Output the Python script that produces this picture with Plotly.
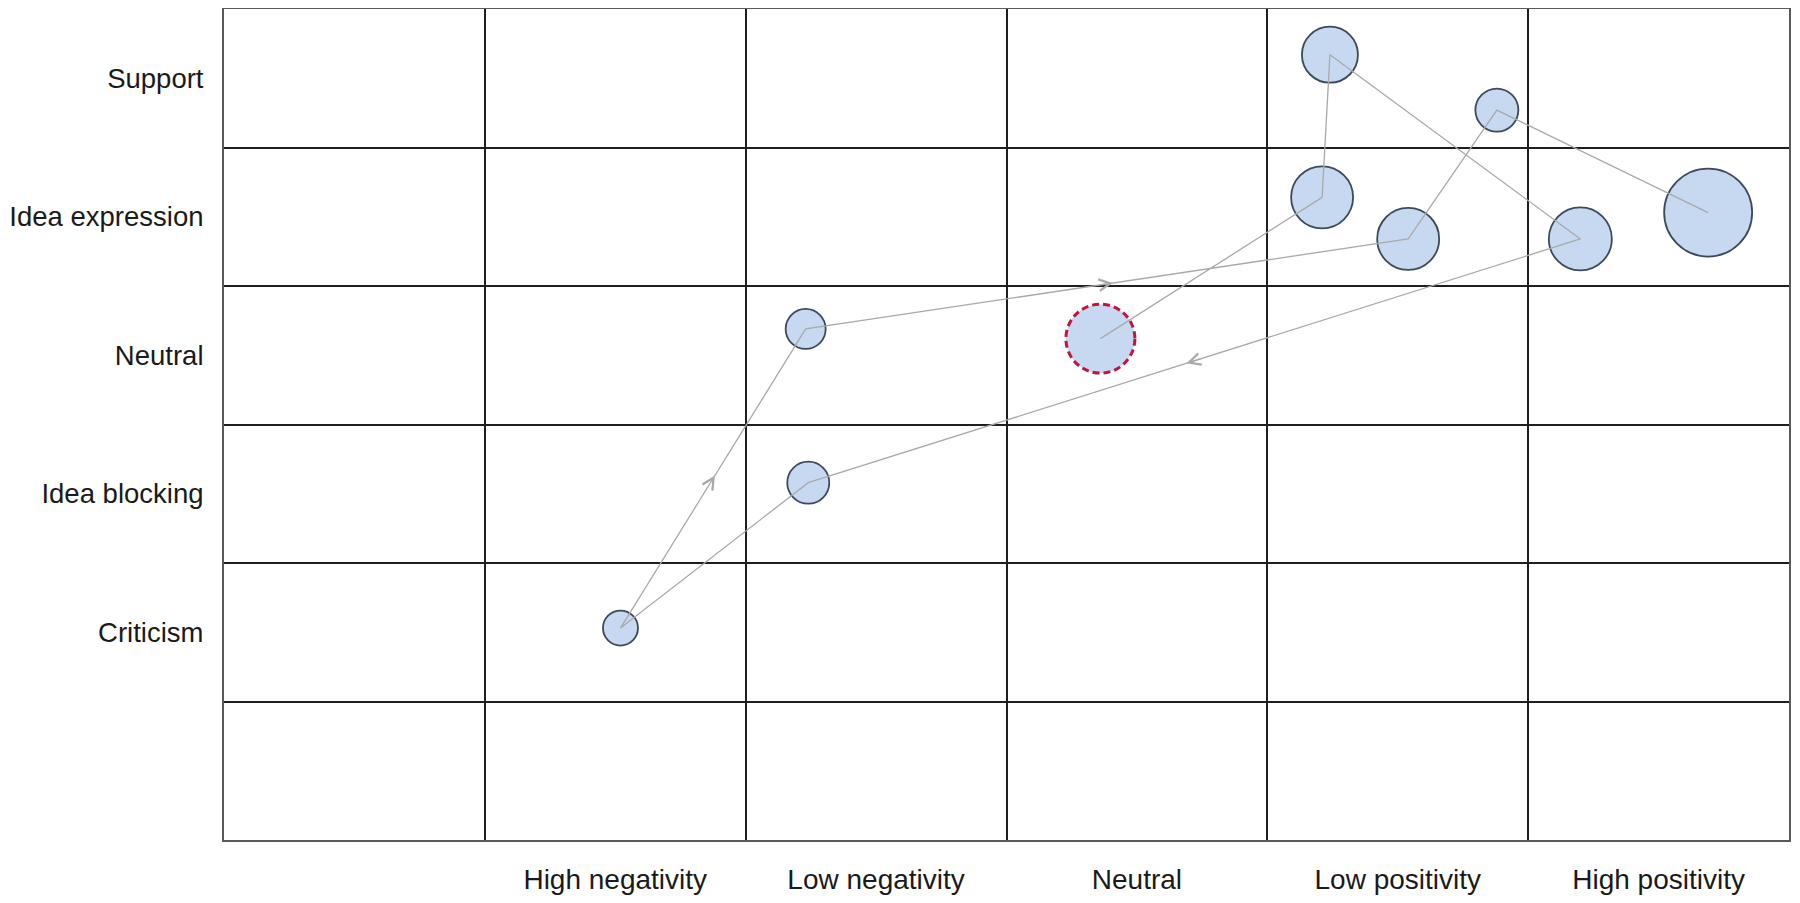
import plotly.graph_objects as go

# grid categories (first column / last row are left blank in the original)
COLUMNS = ["", "High negativity", "Low negativity", "Neutral", "Low positivity", "High positivity"]
ROWS = ["", "Criticism", "Idea blocking", "Neutral", "Idea expression", "Support"]

# conversation steps in order; cell centres sit at .5 on both axes
STEP_X = [3.36, 4.21, 4.24, 5.20, 2.24, 1.52, 2.23, 4.54, 4.88, 5.69]
STEP_Y = [3.62, 4.64, 5.67, 4.34, 2.58, 1.53, 3.69, 4.34, 5.27, 4.53]
STEP_SIZE = [69, 62, 56, 63, 42, 35, 40, 62, 43, 88]

FILL = "#c6d9f1"
EDGE = "#3d4a5c"
PATH_GRAY = "#a9a9a9"
START_RED = "#c4143c"
GRID = "#1e1e1e"
FONT = "Liberation Sans, Arial, sans-serif"

fig = go.Figure()

edge_widths = [0] + [1.8] * (len(STEP_X) - 1)
fig.add_trace(
    go.Scatter(
        x=STEP_X,
        y=STEP_Y,
        mode="markers",
        marker={
            "size": STEP_SIZE,
            "color": FILL,
            "opacity": 1,
            "line": {"color": EDGE, "width": edge_widths},
        },
        hoverinfo="skip",
    )
)
fig.add_trace(
    go.Scatter(
        x=STEP_X,
        y=STEP_Y,
        mode="lines",
        line={"color": PATH_GRAY, "width": 1.3},
        hoverinfo="skip",
    )
)

# small open arrowheads at the middle of each step
for i in range(len(STEP_X) - 1):
    dx = STEP_X[i + 1] - STEP_X[i]
    dy = STEP_Y[i + 1] - STEP_Y[i]
    mx = STEP_X[i] + dx / 2
    my = STEP_Y[i] + dy / 2
    fig.add_annotation(
        x=mx + 0.01 * dx,
        y=my + 0.01 * dy,
        ax=mx - 0.01 * dx,
        ay=my - 0.01 * dy,
        xref="x",
        yref="y",
        axref="x",
        ayref="y",
        text="",
        showarrow=True,
        arrowhead=5,
        arrowwidth=1.2,
        arrowsize=1.9,
        arrowcolor=PATH_GRAY,
        standoff=0,
    )

# dashed red ring on the starting step
r = STEP_SIZE[0] / 2
fig.add_shape(
    type="circle",
    xref="x",
    yref="y",
    xsizemode="pixel",
    ysizemode="pixel",
    xanchor=STEP_X[0],
    yanchor=STEP_Y[0],
    x0=-r,
    x1=r,
    y0=-r,
    y1=r,
    line={"color": START_RED, "width": 3, "dash": "7px,4px"},
    fillcolor="rgba(0,0,0,0)",
    layer="above",
)

n_cols = len(COLUMNS)
n_rows = len(ROWS)

fig.update_xaxes(
    range=[0, n_cols],
    tickvals=[i + 0.5 for i in range(n_cols)],
    ticktext=COLUMNS,
    showgrid=False,
    zeroline=False,
    showline=True,
    mirror=True,
    linecolor="#5a5a5a",
    linewidth=2,
    ticks="",
    ticklabelstandoff=13,
    automargin=False,
    tickfont={"family": FONT, "size": 28, "color": "#1a1a1a"},
    minor={"tickvals": list(range(1, n_cols)), "showgrid": True, "gridcolor": GRID, "gridwidth": 2},
    fixedrange=True,
)
fig.update_yaxes(
    range=[0, n_rows],
    tickvals=[i + 0.5 for i in range(n_rows)],
    ticktext=ROWS,
    showgrid=False,
    zeroline=False,
    showline=True,
    mirror=True,
    linecolor="#5a5a5a",
    linewidth=2,
    ticks="",
    ticklabelstandoff=13,
    automargin=False,
    tickfont={"family": FONT, "size": 27.5, "color": "#1a1a1a"},
    minor={"tickvals": list(range(1, n_rows)), "showgrid": True, "gridcolor": GRID, "gridwidth": 2},
    fixedrange=True,
)

# the page body adds an 8px offset, so the figure is sized to fit the window
fig.update_layout(
    width=1792,
    height=895,
    margin={"l": 216, "r": 11, "t": 1, "b": 63},
    paper_bgcolor="white",
    plot_bgcolor="white",
    showlegend=False,
)

fig.write_html("out.html")
